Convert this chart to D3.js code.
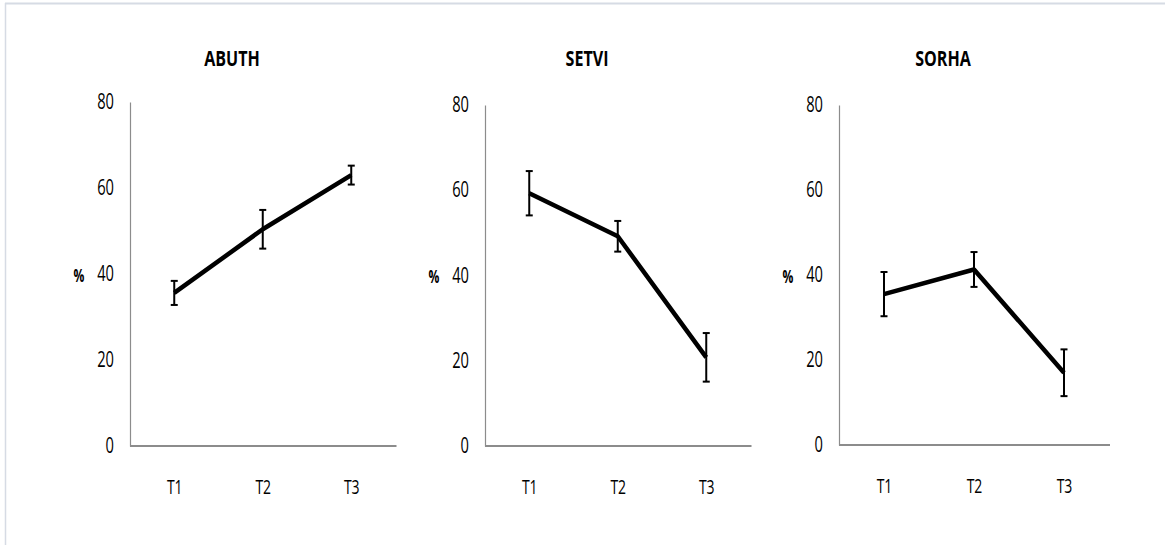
<!DOCTYPE html>
<html>
<head>
<meta charset="utf-8">
<script src="https://cdn.jsdelivr.net/npm/d3@7"></script>
<style>
  html, body { margin: 0; padding: 0; background: #fff; }
  svg { display: block; }
  text { font-family: 'Open Sans', sans-serif; fill: #000; }
</style>
</head>
<body>
<svg id="chart" width="1165" height="545"></svg>
<script>
// ---- data ----
const categories = ["T1", "T2", "T3"];
const yTicks = [0, 20, 40, 60, 80];
const titles = ["ABUTH", "SETVI", "SORHA"];
const abuthMean = [35.6, 50.4, 63.0];
const abuthErr  = [2.8, 4.5, 2.2];
const setviMean = [59.3, 49.2, 20.8];
const setviErr  = [5.2, 3.6, 5.7];
const sorhaMean = [35.5, 41.3, 17.0];
const sorhaErr  = [5.2, 4.1, 5.5];
const yAxisLabel = "%";

const series = [
  { title: titles[0], mean: abuthMean, err: abuthErr },
  { title: titles[1], mean: setviMean, err: setviErr },
  { title: titles[2], mean: sorhaMean, err: sorhaErr }
];

// ---- layout (pixels) ----
const panels = [
  { left: 130, right: 395.5, top: 102, bottom: 446, titleX: 232 },
  { left: 485, right: 750.5, top: 105, bottom: 446, titleX: 587 },
  { left: 839, right: 1109, top: 105, bottom: 445, titleX: 943 }
];
const SX = 0.7; // horizontal condensing to mimic a narrow font
const FONT = "'Open Sans', sans-serif";

const svg = d3.select("#chart");

// outer frame (top and left edges visible)
svg.append("line").attr("x1", 5).attr("x2", 1165).attr("y1", 3.5).attr("y2", 3.5)
  .attr("stroke", "#d6dbe4").attr("stroke-width", 2);
svg.append("line").attr("x1", 5.5).attr("x2", 5.5).attr("y1", 3).attr("y2", 545)
  .attr("stroke", "#d6dbe4").attr("stroke-width", 1.5);

function condensedText(g, x, y, str, size, weight, sx) {
  return g.append("text")
    .attr("transform", `translate(${x},${y}) scale(${sx},1)`)
    .attr("text-anchor", "middle").attr("dominant-baseline", "middle")
    .attr("font-size", size).attr("font-weight", weight).text(str);
}

series.forEach((s, i) => {
  const p = panels[i];
  const x = d3.scalePoint().domain(categories).range([p.left, p.right]).padding(0.5);
  const y = d3.scaleLinear().domain([0, 80]).range([p.bottom, p.top]);
  const g = svg.append("g");

  // title
  condensedText(g, p.titleX, 60, s.title, 22, "bold", 0.73);

  // y axis
  const yAxis = d3.axisLeft(y).tickValues(yTicks).tickSize(0).tickPadding(16);
  const ya = g.append("g").attr("transform", `translate(${p.left},0)`).call(yAxis);
  ya.select(".domain").attr("stroke", "#8c8c8c").attr("stroke-width", 1.2);
  ya.selectAll("text").attr("font-size", 21).attr("fill", "#000")
    .style("font-family", FONT)
    .attr("x", -16 / SX).attr("transform", `scale(${SX},1)`);

  // x axis
  const xAxis = d3.axisBottom(x).tickSize(0).tickPadding(34);
  const xa = g.append("g").attr("transform", `translate(0,${p.bottom})`).call(xAxis);
  xa.select(".domain").attr("stroke", "#8c8c8c").attr("stroke-width", 2)
    .attr("d", `M${p.left},0H${p.right + 1}`);
  xa.selectAll("text").attr("font-size", 20).attr("fill", "#000")
    .style("font-family", FONT).attr("transform", `scale(${SX},1)`);

  // % label
  condensedText(g, p.left - 51, y(40) + 3, yAxisLabel, 18, "bold", 0.67);

  const pts = categories.map((c, k) => ({ c, m: s.mean[k], e: s.err[k] }));

  // line
  g.append("path").datum(pts)
    .attr("fill", "none").attr("stroke", "#000").attr("stroke-width", 4.5)
    .attr("stroke-linejoin", "round")
    .attr("d", d3.line().x(d => x(d.c)).y(d => y(d.m)));

  // error bars
  const eb = g.selectAll(".eb").data(pts).enter().append("g");
  eb.append("line").attr("x1", d => x(d.c)).attr("x2", d => x(d.c))
    .attr("y1", d => y(d.m + d.e)).attr("y2", d => y(d.m - d.e))
    .attr("stroke", "#000").attr("stroke-width", 2);
  eb.append("line").attr("x1", d => x(d.c) - 3.5).attr("x2", d => x(d.c) + 3.5)
    .attr("y1", d => y(d.m + d.e)).attr("y2", d => y(d.m + d.e))
    .attr("stroke", "#000").attr("stroke-width", 2);
  eb.append("line").attr("x1", d => x(d.c) - 3.5).attr("x2", d => x(d.c) + 3.5)
    .attr("y1", d => y(d.m - d.e)).attr("y2", d => y(d.m - d.e))
    .attr("stroke", "#000").attr("stroke-width", 2);
});
</script>
</body>
</html>
